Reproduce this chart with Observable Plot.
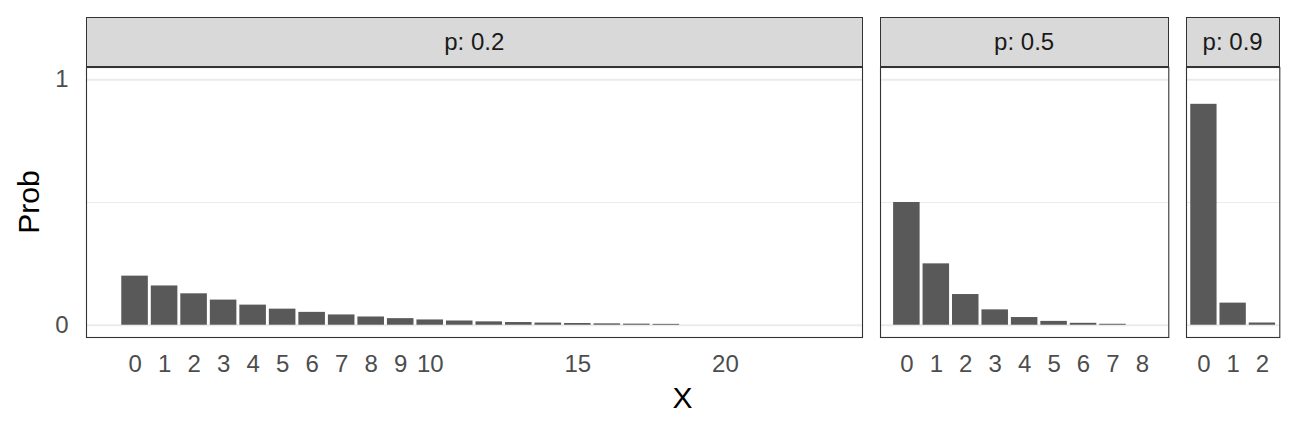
<!DOCTYPE html>
<html><head>
<meta charset="utf-8">
<script src="https://cdn.jsdelivr.net/npm/d3@7"></script>
<script src="https://cdn.jsdelivr.net/npm/@observablehq/plot@0.6"></script>
<style>
body{margin:0;background:#fff;font-family:"Liberation Sans",Arial,sans-serif;}
#c{position:relative;width:1296px;height:432px;overflow:hidden;}
.strip{position:absolute;box-sizing:border-box;background:#d9d9d9;border:1.1px solid #333;font-size:24px;color:#1a1a1a;display:flex;align-items:center;justify-content:center;}
.plot{position:absolute;}
.title{position:absolute;font-size:30px;color:#000;white-space:nowrap;}
</style></head><body><div id="c"></div>
<script>
// ---- data ----
const facetLabels = ["p: 0.2", "p: 0.5", "p: 0.9"];
const x_p02 = [0,1,2,3,4,5,6,7,8,9,10,11,12,13,14,15,16,17,18,19,20,21,22,23];
const prob_p02 = [0.2,0.16,0.128,0.1024,0.0819,0.0655,0.0524,0.0419,0.0336,0.0268,0.0215,0.0172,0.0137,0.011,0.0088,0.007,0.0056,0.0045,0.0036,0,0,0,0,0];
const x_p05 = [0,1,2,3,4,5,6,7,8];
const prob_p05 = [0.5,0.25,0.125,0.0625,0.0313,0.0156,0.0078,0.0039,0];
const x_p09 = [0,1,2];
const prob_p09 = [0.9,0.09,0.009];
const xTicks_p02 = [0,1,2,3,4,5,6,7,8,9,10,15,20];
const xTicks_p05 = [0,1,2,3,4,5,6,7,8];
const xTicks_p09 = [0,1,2];
const yTicks = [0,1];
const yMinor = [0.5];

const facets = [
  {label: facetLabels[0], xs: x_p02, ps: prob_p02, ticks: xTicks_p02},
  {label: facetLabels[1], xs: x_p05, ps: prob_p05, ticks: xTicks_p05},
  {label: facetLabels[2], xs: x_p09, ps: prob_p09, ticks: xTicks_p09}
];

// ---- layout ----
const panelL = [86, 879.7, 1185.7];
const panelR = [862, 1168, 1279];
const panelTop = 66.7, panelBottom = 336.7, stripTop = 16.7;
const mTop = 2, mBottom = 55, mSide = 2;
const c = document.getElementById("c");

facets.forEach((f, i) => {
  const data = f.xs.map((x, j) => ({x, p: f.ps[j]})).filter(d => d.p > 0);
  const lo = d3.min(f.xs) - 0.45, hi = d3.max(f.xs) + 0.45;
  const ex = 0.05 * (hi - lo);
  const L = panelL[i], R = panelR[i];
  const mLeft = i === 0 ? L : mSide;
  const svgLeft = i === 0 ? 0 : L - mSide;
  const width = (R - L) + mLeft + mSide;
  const height = (panelBottom - panelTop) + mTop + mBottom;
  const marks = [
    Plot.ruleY(yMinor, {stroke: "#ebebeb", strokeWidth: 1}),
    Plot.ruleY(yTicks, {stroke: "#ebebeb", strokeWidth: 2}),
    Plot.rect(data, {x1: d => d.x - 0.45, x2: d => d.x + 0.45, y1: 0, y2: "p", fill: "#595959"}),
    Plot.frame({stroke: "#333333", strokeWidth: 1.1}),
    Plot.axisX(f.ticks, {tickSize: 0, tickPadding: 17, fontSize: 24, fill: "#4d4d4d", label: null, tickFormat: d3.format("d")})
  ];
  if (i === 0) marks.push(Plot.axisY(yTicks, {tickSize: 0, tickPadding: 18, fontSize: 24, fill: "#4d4d4d", label: null, tickFormat: d3.format("d")}));
  const plot = Plot.plot({
    width, height,
    marginLeft: mLeft, marginRight: mSide, marginTop: mTop, marginBottom: mBottom,
    x: {domain: [lo - ex, hi + ex], axis: null},
    y: {domain: [-0.05, 1.05], axis: null},
    style: {fontFamily: '"Liberation Sans", Arial, sans-serif', fontSize: "24px", overflow: "visible", background: "transparent"},
    marks
  });
  plot.classList.add("plot");
  plot.style.left = svgLeft + "px";
  plot.style.top = (panelTop - mTop) + "px";
  c.appendChild(plot);

  const s = document.createElement("div");
  s.className = "strip";
  s.textContent = f.label;
  s.style.left = L + "px";
  s.style.top = stripTop + "px";
  s.style.width = (R - L + 0.6) + "px";
  s.style.height = (panelTop - stripTop + 0.6) + "px";
  c.appendChild(s);
});

const yt = document.createElement("div");
yt.className = "title";
yt.textContent = "Prob";
yt.style.left = "29px"; yt.style.top = "202px";
yt.style.transform = "translate(-50%,-50%) rotate(-90deg)";
c.appendChild(yt);

const xt = document.createElement("div");
xt.className = "title";
xt.textContent = "X";
xt.style.left = "682.5px"; xt.style.top = "398px";
xt.style.transform = "translate(-50%,-50%)";
c.appendChild(xt);
</script>
</body></html>
